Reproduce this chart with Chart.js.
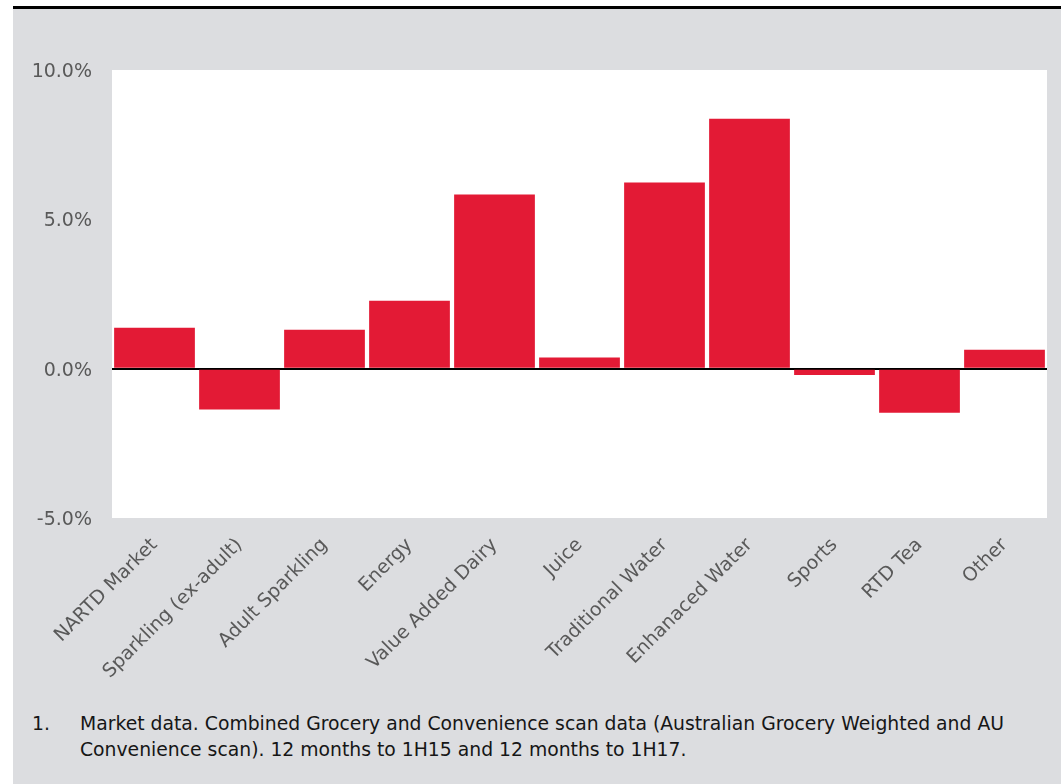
<!DOCTYPE html>
<html>
<head>
<meta charset="utf-8">
<script src="https://cdn.jsdelivr.net/npm/chart.js@4/dist/chart.umd.min.js"></script>
<style>
    html, body { margin: 0; padding: 0; background: #fff; }
    body { width: 1061px; height: 784px; position: relative; overflow: hidden; }
    .panel {
        position: absolute; left: 13px; top: 6px; width: 1048px; height: 778px;
        background: #dcdde0; border-top: 3px solid #000;
    }
    .chart-box { position: absolute; left: 0; top: 0; width: 1048px; height: 690px; }
    .note {
        position: absolute; left: 0; top: 702px; width: 1040px;
        font-family: "DejaVu Sans", sans-serif; font-size: 18.8px; line-height: 26px;
        color: #161616;
    }
    .note .num { position: absolute; left: 19px; top: 0; }
    .note .txt { position: absolute; left: 67px; top: 0; width: 950px; }
</style>
</head>
<body>
<div class="panel">
    <div class="chart-box"><canvas id="chart"></canvas></div>
    <div class="note">
        <span class="num">1.</span>
        <span class="txt">Market data. Combined Grocery and Convenience scan data (Australian Grocery Weighted and AU Convenience scan). 12 months to 1H15 and 12 months to 1H17.</span>
    </div>
</div>
<script>
    //
    // Data
    //

    const CATEGORIES = [
        'NARTD Market',
        'Sparkling (ex-adult)',
        'Adult Sparkling',
        'Energy',
        'Value Added Dairy',
        'Juice',
        'Traditional Water',
        'Enhanaced Water',
        'Sports',
        'RTD Tea',
        'Other',
    ]

    // growth, percent
    const GROWTH = [ 1.37, -1.37, 1.30, 2.27, 5.83, 0.37, 6.23, 8.37, -0.21, -1.48, 0.63 ]

    const Y_MIN = -5
    const Y_MAX = 10
    const Y_STEP = 5

    //
    // Chart
    //

    const label_colour = '#595959'
    const font = { family: '"DejaVu Sans", sans-serif', size: 19 }

    // white plot area on the grey panel
    const plot_background = {
        id: 'plot_background',
        beforeDraw (chart) {
            const { ctx, chartArea: a } = chart
            ctx.save()
            ctx.fillStyle = '#fff'
            ctx.fillRect(a.left, a.top, a.right - a.left, a.bottom - a.top)
            ctx.restore()
        },
    }

    const ctx = document.getElementById('chart').getContext('2d')
    new Chart(ctx, {
        type: 'bar',
        data: {
            labels: CATEGORIES,
            datasets: [
                {
                    data: GROWTH,
                    backgroundColor: '#e31a35',
                    borderWidth: 0,
                    barPercentage: 1,
                    categoryPercentage: 0.95,
                },
            ],
        },
        options: {
            responsive: true,
            maintainAspectRatio: false,
            animation: false,
            layout: { padding: { top: 61, right: 14, left: 0, bottom: 0 } },
            plugins: {
                legend: { display: false },
                tooltip: { enabled: false },
            },
            scales: {
                x: {
                    grid: { display: false, drawTicks: false },
                    border: { display: false },
                    ticks: {
                        color: label_colour,
                        font,
                        minRotation: 45,
                        maxRotation: 45,
                        padding: 16,
                        autoSkip: false,
                    },
                    afterFit (scale) { scale.height = 181 },
                },
                y: {
                    min: Y_MIN,
                    max: Y_MAX,
                    grid: {
                        drawTicks: false,
                        lineWidth: 2,
                        color: (c) => (c.tick && c.tick.value === 0 ? '#000' : 'transparent'),
                    },
                    border: { display: false },
                    ticks: {
                        stepSize: Y_STEP,
                        color: label_colour,
                        font,
                        padding: 20,
                        labelOffset: 2,
                        callback: (v) => v.toFixed(1) + '%',
                    },
                    afterFit (scale) { scale.width = 99 },
                },
            },
        },
        plugins: [ plot_background ],
    })
</script>
</body>
</html>
